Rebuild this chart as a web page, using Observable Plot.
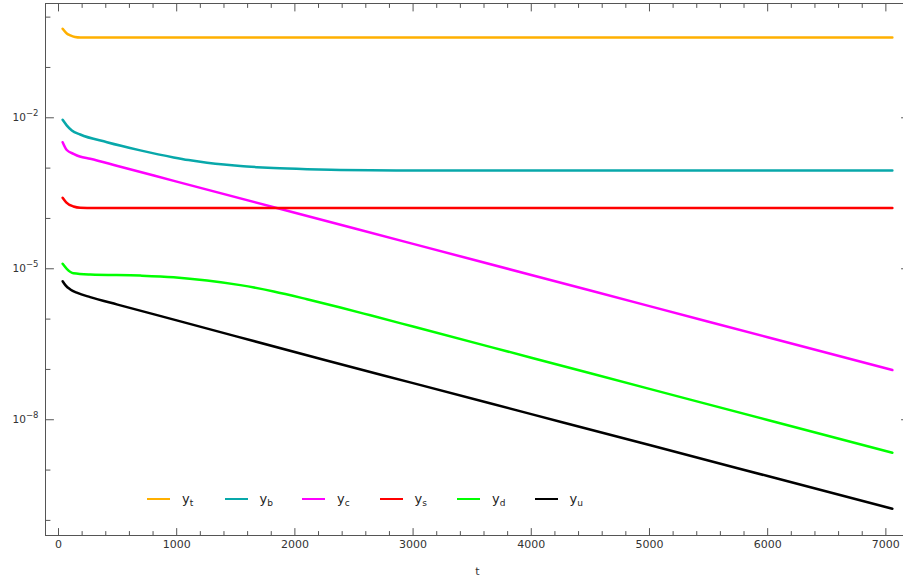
<!DOCTYPE html>
<html><head><meta charset="utf-8">
<script src="https://cdn.jsdelivr.net/npm/d3@7"></script>
<script src="https://cdn.jsdelivr.net/npm/@observablehq/plot@0.6"></script>
<style>
html,body{margin:0;padding:0;background:#fff;overflow:hidden;}
#wrap{position:relative;width:903px;height:584px;overflow:hidden;}
#legend{position:absolute;left:147px;top:489px;display:flex;font-family:"DejaVu Sans",sans-serif;font-size:13px;color:#222;}
#legend .item{width:77.5px;display:flex;align-items:center;height:20px;}
#legend .sw{width:23px;height:0;border-top:2.5px solid;margin-right:12px;}
#legend sub{font-size:9px;vertical-align:-3px;}
</style></head>
<body>
<div id="wrap"><div id="chart"></div><div id="legend"></div></div>
<script>
// series: names, colours, and values (log10 of y)
const seriesNames = ["t", "b", "c", "s", "d", "u"];
const seriesColors = ["#ffb000", "#08a8aa", "#ff00ff", "#ff0000", "#00ff00", "#000000"];

const tT = [35, 70, 100, 140, 185, 300, 1000, 2000, 3000, 4000, 5000, 6000, 7055];
const logT = [-0.232, -0.325, -0.364, -0.395, -0.405, -0.405, -0.405, -0.405, -0.405, -0.405, -0.405, -0.405, -0.405];

const tB = [35, 71, 113, 184, 410, 692, 974, 1100, 1257, 1400, 1539, 1680, 1818, 2103, 2385, 2639, 3000, 4000, 5000, 6000, 7055];
const logB = [-2.04, -2.155, -2.252, -2.332, -2.485, -2.647, -2.787, -2.840, -2.892, -2.930, -2.959, -2.981, -2.999, -3.022, -3.035, -3.042, -3.046, -3.047, -3.047, -3.047, -3.047];

const tC = [35, 70, 127, 180, 268, 500, 1000, 2000, 3000, 4000, 5000, 6000, 7055];
const logC = [-2.485, -2.64, -2.715, -2.77, -2.815, -2.958, -3.268, -3.887, -4.505, -5.124, -5.742, -6.361, -7.013];

const tS = [35, 65, 127, 184, 300, 1000, 3000, 5000, 7055];
const logS = [-3.589, -3.68, -3.762, -3.788, -3.792, -3.792, -3.792, -3.792, -3.792];

const tD = [35, 70, 127, 268, 692, 974, 1257, 1539, 1821, 2103, 2385, 2639, 3000, 4000, 5000, 6000, 7055];
const logD = [-4.901, -5.0, -5.088, -5.113, -5.135, -5.168, -5.233, -5.325, -5.450, -5.605, -5.770, -5.925, -6.148, -6.767, -7.386, -8.005, -8.656];

const tU = [35, 60, 100, 160, 268, 500, 1000, 2244, 3000, 4000, 5000, 6000, 7055];
const logU = [-5.247, -5.33, -5.41, -5.48, -5.564, -5.712, -6.025, -6.808, -7.273, -7.888, -8.503, -9.119, -9.769];

// axes
const xMajor = [0, 1000, 2000, 3000, 4000, 5000, 6000, 7000];
const xMinor = [200, 400, 600, 800, 1200, 1400, 1600, 1800, 2200, 2400, 2600, 2800, 3200, 3400, 3600, 3800, 4200, 4400, 4600, 4800, 5200, 5400, 5600, 5800, 6200, 6400, 6600, 6800, 7200];
const yMajor = [1e-2, 1e-5, 1e-8];
const yMinor = [1, 1e-1, 1e-3, 1e-4, 1e-6, 1e-7, 1e-9, 1e-10];
const xDomain = [-110, 7200];
const yDomain = [Math.pow(10, -10.30), Math.pow(10, 0.271)];
const xTitle = "t";

const tArr = [tT, tB, tC, tS, tD, tU];
const logArr = [logT, logB, logC, logS, logD, logU];
const rows = [];
seriesNames.forEach((n, i) => tArr[i].forEach((t, j) => rows.push({series: n, t, y: Math.pow(10, logArr[i][j])})));

const axisColor = "#555";
const tickShape = {draw(context, l) { context.moveTo(0, 0); context.lineTo(0, -l); }};
const tick = (data, ch, anchor, rotate, length) =>
  Plot.vector(data, {[ch]: d => d, frameAnchor: anchor, rotate, length, anchor: "start", shape: tickShape, stroke: axisColor, strokeWidth: 1});

const plot = Plot.plot({
  width: 903, height: 584,
  marginLeft: 45, marginRight: -6, marginTop: 3, marginBottom: 49,
  style: {fontFamily: "DejaVu Sans, sans-serif", fontSize: "11px", overflow: "hidden", background: "#fff"},
  x: {domain: xDomain, axis: null},
  y: {type: "log", domain: yDomain, axis: null},
  color: {domain: seriesNames, range: seriesColors},
  marks: [
    Plot.line(rows, {x: "t", y: "y", z: "series", stroke: "series", strokeWidth: 2.5, curve: "monotone-x"}),
    Plot.frame({stroke: axisColor, strokeWidth: 1}),
    // inward ticks
    tick(yMajor, "y", "left", 90, 8),
    tick(yMinor, "y", "left", 90, 4.5),
    tick(yMajor, "y", "right", -90, 8),
    tick(yMinor, "y", "right", -90, 4.5),
    tick(xMajor, "x", "bottom", 0, 7),
    tick(xMinor, "x", "bottom", 0, 4),
    tick(xMajor, "x", "top", 180, 7.5),
    tick(xMinor, "x", "top", 180, 4),
    // tick labels
    Plot.text(xMajor, {x: d => d, frameAnchor: "bottom", dy: 12, text: d => String(d), fill: "#333", fontSize: 11}),
    Plot.text(yMajor, {y: d => d, frameAnchor: "left", dx: -7, textAnchor: "end", text: d => "10^" + Math.round(Math.log10(d)), fill: "#333", fontSize: 10.5}),
    Plot.text([xTitle], {frameAnchor: "bottom", dy: 39, text: d => d, fill: "#333", fontSize: 11})
  ]
});

// superscripts for the log tick labels
d3.select(plot).selectAll("text").each(function () {
  const m = /^10\^(.+)$/.exec(this.textContent);
  if (m) {
    this.textContent = "10";
    const ts = document.createElementNS("http://www.w3.org/2000/svg", "tspan");
    ts.setAttribute("dy", "-5");
    ts.setAttribute("font-size", "8.5");
    ts.textContent = m[1].replace("-", "\u2212");
    this.appendChild(ts);
  }
});
document.getElementById("chart").appendChild(plot);

// legend
const lg = d3.select("#legend");
seriesNames.forEach((n, i) => {
  const it = lg.append("div").attr("class", "item");
  it.append("div").attr("class", "sw").style("border-top-color", seriesColors[i]);
  it.append("span").html("y<sub>" + n + "</sub>");
});
</script>
</body></html>
